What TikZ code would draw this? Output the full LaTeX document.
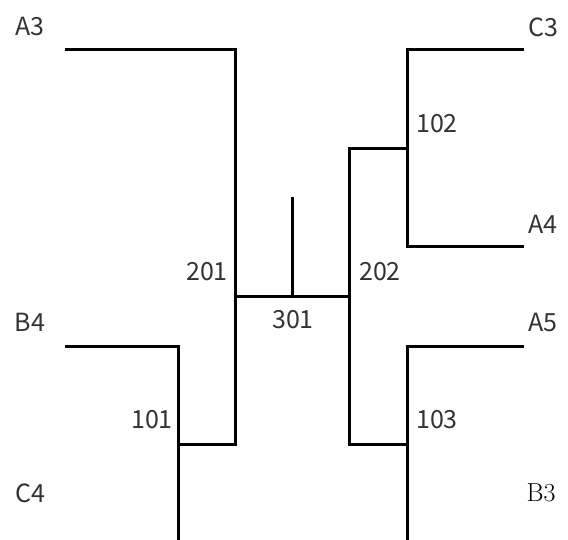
\documentclass[tikz,border=0pt]{standalone}
\usepackage{fontspec}
\newfontfamily\jpfont{Noto Sans CJK JP}
\tikzset{
  edge/.style={line width=3pt, line cap=rect, line join=miter},
  lbl/.style={font=\jpfont\fontsize{25}{25}\selectfont, inner sep=0pt, text=black!80},
  lblserif/.style={font=\fontsize{26}{26}\selectfont, inner sep=0pt},
  pt/.style={inner sep=0pt, minimum size=0pt}
}
\begin{document}
\begin{tikzpicture}[x=1pt,y=-1pt]
\useasboundingbox (0,0) rectangle (568,540);
% leaves
\coordinate (A3) at (66,50);
\coordinate (C3) at (522,50);
\coordinate (A4) at (522,247);
\coordinate (B4) at (66,346);
\coordinate (A5) at (522,346);
\coordinate (C4) at (178,540);
\coordinate (B3) at (407,540);
\coordinate (top) at (292,199);
% internal points
\coordinate (n101) at (178,444);
\coordinate (n102) at (407,149);
\coordinate (n103) at (407,444);
\coordinate (n201) at (235,297);
\coordinate (n202) at (349,297);
\coordinate (n301) at (292,297);
% edges
\draw[edge] (A3) -| (n201);
\draw[edge] (n201) |- (n101);
\draw[edge] (B4) -| (n101) -- (C4);
\draw[edge] (C3) -| (n102);
\draw[edge] (n102) |- (A4);
\draw[edge] (n102) -| (n202);
\draw[edge] (n202) |- (n103);
\draw[edge] (A5) -| (n103) -- (B3);
\draw[edge] (n201) -- (n202);
\draw[edge] (n301) -- (top);
% labels
\node[lbl] (tA3) at (30,27) {A3};
\node[lbl] (tC3) at (543,27) {C3};
\node[lbl] (tA4) at (543,224) {A4};
\node[lbl] (tB4) at (30,322) {B4};
\node[lbl] (tA5) at (543,322) {A5};
\node[lbl] (tC4) at (30,493) {C4};
\node[lblserif] (tB3) at (541,493) {B3};
\node[lbl] (t102) at (437,124) {102};
\node[lbl] (t201) at (207,272) {201};
\node[lbl] (t202) at (380,272) {202};
\node[lbl] (t301) at (293,320) {301};
\node[lbl] (t101) at (152,420) {101};
\node[lbl] (t103) at (437,420) {103};
\end{tikzpicture}
\end{document}
